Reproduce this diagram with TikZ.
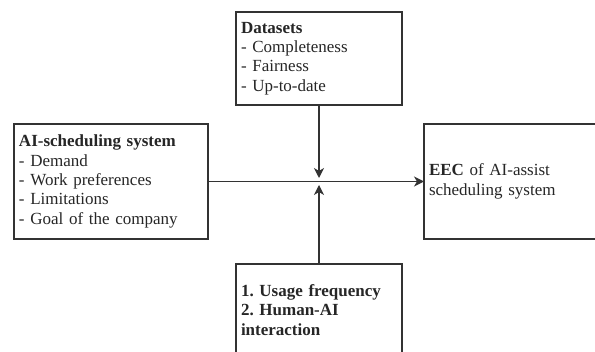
\documentclass[tikz,border=0pt]{standalone}
\usepackage{fontspec}
\setmainfont{Liberation Serif}
\usetikzlibrary{arrows.meta}
\frenchspacing
\tikzset{
  box/.style={draw=black!80, line width=1.3pt, rectangle, align=left, inner xsep=5pt, inner ysep=0pt, outer sep=0pt,
    font=\fontsize{17}{19.3}\selectfont, text=black!85},
  conn/.style={draw=black!80, line width=1.3pt},
  tip/.style={-{Stealth[length=10pt,width=10pt,inset=3pt]}}
}
\begin{document}
\begin{tikzpicture}[x=1pt,y=-1pt]
\useasboundingbox (0,0) rectangle (595,352);
\clip (0,0) rectangle (595,352);
\node[box, text width=156pt, minimum height=93pt] (ds) at (319,58.5)
  {\textbf{Datasets}\\- Completeness\\- Fairness\\- Up-to-date};
\node[box, text width=184pt, minimum height=115pt] (ai) at (111,181.5)
  {\textbf{AI-scheduling system}\\- Demand\\- Work preferences\\- Limitations\\- Goal of the company};
\node[box, text width=176pt, minimum height=115pt] (eec) at (517,181.5)
  {\textbf{EEC} of AI-assist\\scheduling system};
\node[box, text width=156pt, minimum height=92pt, font=\fontsize{17}{19.3}\selectfont\bfseries] (bt) at (319,310)
  {1. Usage frequency\\2. Human-AI\\interaction};
\coordinate (downtip) at (319,178);
\coordinate (uptip) at (319,185);
\draw[conn, tip] (ai.east) -- (eec.west);
\draw[conn, tip] (ds.south) -- (downtip);
\draw[conn, tip] (bt.north) -- (uptip);
\end{tikzpicture}
\end{document}
